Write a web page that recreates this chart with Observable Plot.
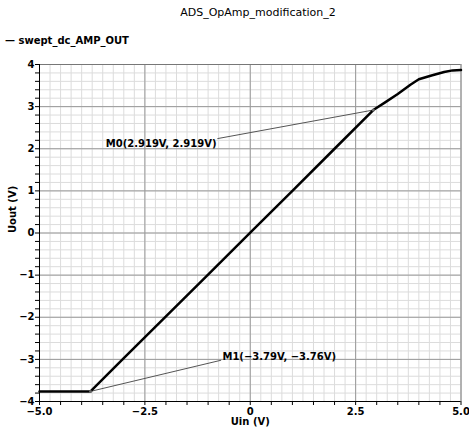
<!DOCTYPE html>
<html>
<head>
<meta charset="utf-8">
<script src="https://cdn.jsdelivr.net/npm/d3@7"></script>
<script src="https://cdn.jsdelivr.net/npm/@observablehq/plot@0.6"></script>
<style>
  html, body { margin: 0; padding: 0; background: #fff; }
  body { width: 469px; height: 436px; position: relative; font-family: "DejaVu Sans", sans-serif; }
  #title { position: absolute; left: 0; top: 5px; width: 516px; text-align: center; font-size: 11px; height: 16px; line-height: 16px; color: #000; }
  #legend { position: absolute; left: 5px; top: 33px; font-size: 10px; font-weight: bold; line-height: 16px; color: #000; }
  #chart { position: absolute; left: 0; top: 54px; }
</style>
</head>
<body>
<div id="title">ADS_OpAmp_modification_2</div>
<div id="legend">— swept_dc_AMP_OUT</div>
<div id="chart"></div>
<script>
// Series: swept DC transfer curve (Uin -> Uout)
const uin  = [-5.0, -3.79, -3.0, -2.0, -1.0, 0.0, 1.0, 2.0, 2.919, 3.2, 3.5, 3.8, 4.0, 4.3, 4.6, 4.8, 5.0];
const uout = [-3.76, -3.76, -2.97, -1.98, -0.99, 0.01, 1.0, 2.0, 2.919, 3.1, 3.3, 3.52, 3.65, 3.74, 3.82, 3.86, 3.87];

// Markers
const markerNames = ["M0", "M1"];
const markerX = [2.919, -3.79];
const markerY = [2.919, -3.76];
const markerLabels = ["M0(2.919V, 2.919V)", "M1(\u22123.79V, \u22123.76V)"];
// label anchor points (data coords) where the leader lines end
const labelX = [-0.78, -0.69];
const labelY = [2.24, -3.02];
const textX = [-0.80, -0.66];
const textY = [2.11, -2.94];
const textAnchors = ["end", "start"];

// Axis ticks
const xTicks = d3.range(-5, 5.0001, 0.5);
const yTicks = d3.range(-4, 4.0001, 0.2).map(v => Math.round(v * 10) / 10);
const xMinorGrid = d3.range(-5, 5.0001, 0.25);
const yMinorGrid = yTicks;
const xMajorGrid = [-2.5, 0, 2.5];
const yMajorGrid = [-3, -2, -1, 0, 1, 2, 3];

const curve = uin.map((x, i) => ({x, y: uout[i]}));
const markers = markerNames.map((n, i) => ({
  name: n, x: markerX[i], y: markerY[i], lx: labelX[i], ly: labelY[i],
  tx: textX[i], ty: textY[i], label: markerLabels[i], anchor: textAnchors[i]
}));

const minus = s => s.replace("-", "\u2212");
const fmtX = d => Math.abs(d / 2.5 - Math.round(d / 2.5)) < 1e-9 ? (d === 0 ? "0" : minus(d.toFixed(1))) : "";
const fmtY = d => Math.abs(d - Math.round(d)) < 1e-9 ? minus(String(Math.round(d))) : "";

const chart = Plot.plot({
  width: 469,
  height: 382,
  marginTop: 10,
  marginBottom: 35,
  marginLeft: 39,
  marginRight: 8.5,
  style: {fontFamily: "DejaVu Sans, sans-serif", fontSize: "10px", fontWeight: "bold", color: "#000", background: "#fff"},
  x: {domain: [-5, 5]},
  y: {domain: [-4, 4]},
  marks: [
    Plot.ruleX(xMinorGrid, {stroke: "#dcdcdc", strokeWidth: 1}),
    Plot.ruleY(yMinorGrid, {stroke: "#dcdcdc", strokeWidth: 1}),
    Plot.ruleX(xMajorGrid, {stroke: "#9a9a9a", strokeWidth: 1}),
    Plot.ruleY(yMajorGrid, {stroke: "#9a9a9a", strokeWidth: 1}),
    Plot.ruleX([5], {stroke: "#777", strokeWidth: 1}),
    Plot.ruleY([4], {stroke: "#777", strokeWidth: 1}),
    Plot.axisX({ticks: xTicks, tickSize: 4, tickPadding: 2, tickFormat: fmtX, label: null, stroke: "#000"}),
    Plot.axisY({ticks: yTicks, tickSize: 4, tickPadding: 1, tickFormat: fmtY, label: null, stroke: "#000"}),
    Plot.ruleX([-5], {stroke: "#000", strokeWidth: 1}),
    Plot.ruleY([-4], {stroke: "#000", strokeWidth: 1}),
    Plot.link(markers, {x1: "x", y1: "y", x2: "lx", y2: "ly", stroke: "#555", strokeWidth: 1}),
    Plot.line(curve, {x: "x", y: "y", stroke: "#000", strokeWidth: 2.5}),
    Plot.dot(markers, {x: "x", y: "y", r: 1.5, fill: "#666", stroke: "none"}),
    Plot.text(markers.filter(d => d.anchor === "end"), {x: "tx", y: "ty", text: "label", textAnchor: "end", fill: "#000", fontSize: 10, fontWeight: "bold"}),
    Plot.text(markers.filter(d => d.anchor === "start"), {x: "tx", y: "ty", text: "label", textAnchor: "start", fill: "#000", fontSize: 10, fontWeight: "bold"}),
    Plot.text(["Uin (V)"], {frameAnchor: "bottom", dy: 23, fontSize: 10, fontWeight: "bold"}),
    Plot.text(["Uout (V)"], {frameAnchor: "left", dx: -27, rotate: -90, fontSize: 10, fontWeight: "bold"})
  ]
});
document.getElementById("chart").appendChild(chart);
</script>
</body>
</html>
